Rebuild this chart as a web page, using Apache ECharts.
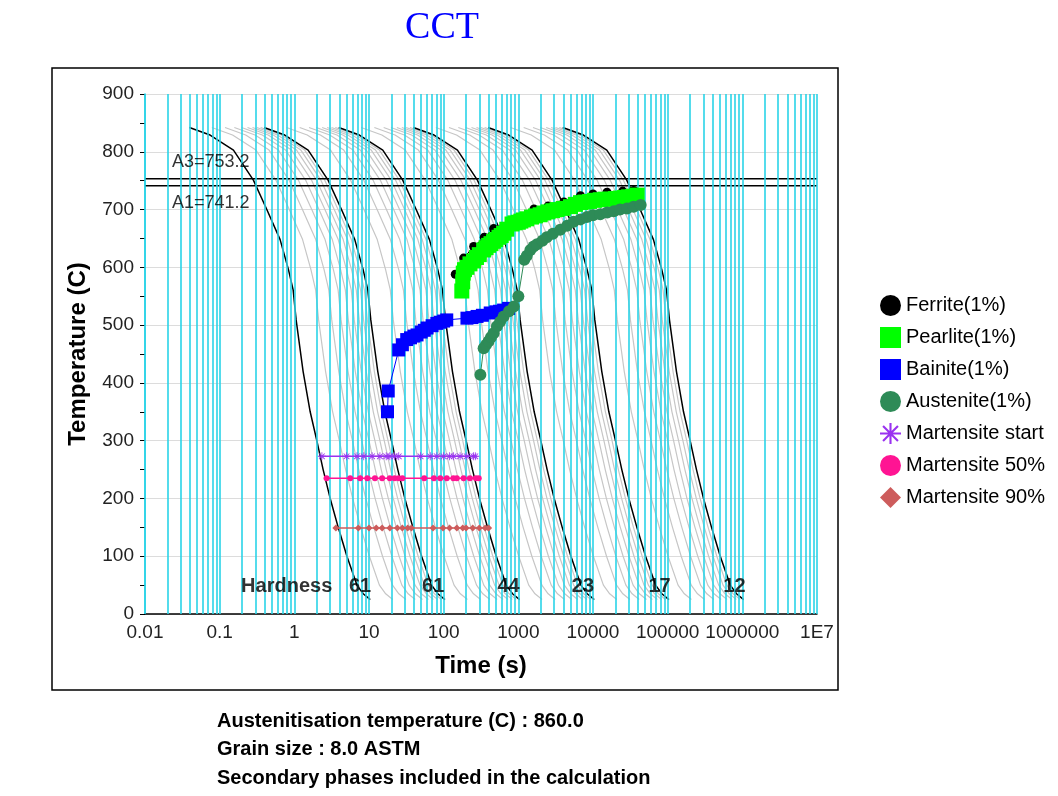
<!DOCTYPE html>
<html>
<head>
<meta charset="utf-8">
<title>CCT</title>
<script src="https://cdn.jsdelivr.net/npm/echarts@6/dist/echarts.min.js"></script>
<style>
html,body{margin:0;padding:0;background:#fff;}
#cct-chart{width:1058px;height:796px;}
</style>
</head>
<body>
<div id="cct-chart"></div>
<script>
// time axis labels and the log grid (1..9 in each decade)
var timeTickLabels = ['0.01','0.1','1','10','100','1000','10000','100000','1000000','1E7'];
var decadeStarts = [0.01,0.1,1,10,100,1000,10000,100000,1000000];
var decadeSteps = [1,2,3,4,5,6,7,8,9];

// fastest cooling curve (left black one)
var baseTime = [0.0393,0.0744,0.153,0.283,0.428,0.645,0.834,0.964,1.057,1.31,1.63,2.0,2.43,3.02,3.87,5.06,6.89,8.36,10.4];
var baseTemp = [842,829,803,751,700,648,596,561,509,420,350,300,250,200,150,100,50,35,25];
// slower curves are the same curve moved along the time axis
var blackShift = [1,10,100,1000,10000,100000];
var greySteps = [2,3,4,5,6,7,8,9];
var greyDecades = [1,10,100,1000,10000];

// critical temperatures
var a3Temp = 753.2;
var a1Temp = 741.2;

// phase start points
var ferriteTime = [143,185,252,350,466,635,955,1620,2500,4070,6800,10000,15400,25000,35000];
var ferriteTemp = [588,616,636,652,667,670,684,701,706,713,724,727,730,732,733];
var pearliteTime = [175,180,183,190,205,225,251,275,300,343,370,400,430,466,500,550,590,635,700,823,900,1000,1080,1170,1300,1500,1700,1960,2200,2500,2900,3300,4000,5000,5800,6800,7800,9000,10500,12500,14500,17000,20000,23300,26500,30000,34000,39000];
var pearliteTemp = [559,575,590,596,600,606,611,617,622,630,634,638,641,645,648,652,655,659,666,675,677,678,680,682,684,687,689,691,694,696,698,700,702,705,709,712,713,714,716,717,718,718,719,720,721,722,723,725];
var bainiteTime = [17.7,18.1,25,28,32,36,40,44,50,55,60,70,81,90,100,110,205,240,280,330,420,500,560,635,740];
var bainiteTemp = [350,386,457,466,475,478,481,483,488,491,495,499,503,505,507,509,512,513,515,517,521,523,524,526,529];
var austeniteTime = [310,343,370,400,430,466,517,570,635,750,870,1000,1200,1300,1450,1600,1780,2100,2400,2900,3640,4500,5500,6800,8300,10000,12500,15500,19000,23000,28500,35000,43500];
var austeniteTemp = [414,460,466,472,479,486,498,506,515,524,532,550,613,620,630,636,640,646,652,658,665,672,679,683,687,690,692,695,697,700,702,705,708];

// martensite temperatures and where the cooling curves cross them
var msLevel = 273;
var msTime = [2.34,5.0,6.9,8.5,11,14,17,19,22,25,49,66,81,100,120,136,166,204,250,265];
var m50Level = 235;
var m50Time = [2.7,5.6,7.6,9.5,12,15,19,22,25,28,55,74,90,110,135,150,185,225,270,295];
var m90Level = 149;
var m90Time = [3.6,7.2,10,12.5,15,19,24,28,33,37,72,98,120,150,180,200,245,300,360,400];

// hardness of the six black curves
var hardnessText = ['61','61','44','23','17','12'];
var hardnessTime = [7.6,72.5,740,7330,78000,785000];
var hardnessTemp = 47;

var infoLines = [
  'Austenitisation temperature (C) : 860.0',
  'Grain size : 8.0 ASTM',
  'Secondary phases included in the calculation'
];

var asteriskPath = 'path://M9,0h2v20h-2z M0,9h20v2h-20z M2.2,3.6L3.6,2.2L17.8,16.4L16.4,17.8z M16.4,2.2L17.8,3.6L3.6,17.8L2.2,16.4z';
var cyan = '#2ad4e8';

function curveData(shift) {
  var pts = [];
  for (var i = 0; i < baseTime.length; i++) {
    pts.push([baseTime[i] * shift, baseTemp[i]]);
  }
  return pts;
}
function pairData(times, temps) {
  var pts = [];
  for (var i = 0; i < times.length; i++) {
    pts.push([times[i], temps[i]]);
  }
  return pts;
}
function levelData(times, level) {
  var pts = [];
  for (var i = 0; i < times.length; i++) {
    pts.push([times[i], level]);
  }
  return pts;
}
function phaseSeries(name, data, symbol, size, color, width) {
  return {
    name: name,
    type: 'line',
    data: data,
    symbol: symbol,
    symbolSize: size,
    showSymbol: true,
    itemStyle: { color: color },
    lineStyle: { color: color, width: width },
    emphasis: { disabled: true },
    silent: true,
    z: 5
  };
}

var cyanLines = [];
for (var d = 0; d < decadeStarts.length; d++) {
  for (var s = 0; s < decadeSteps.length; s++) {
    cyanLines.push({ xAxis: decadeStarts[d] * decadeSteps[s] });
  }
}
cyanLines.push({ xAxis: 1e7 });

var series = [];
// cyan log grid
series.push({
  type: 'line',
  data: [],
  silent: true,
  z: 1,
  markLine: {
    silent: true,
    symbol: ['none', 'none'],
    label: { show: false },
    lineStyle: { color: cyan, width: 1.6, type: 'solid' },
    data: cyanLines
  }
});
// grey cooling curves
for (var g = 0; g < greyDecades.length; g++) {
  for (var k = 0; k < greySteps.length; k++) {
    series.push({
      type: 'line',
      data: curveData(greyDecades[g] * greySteps[k]),
      showSymbol: false,
      silent: true,
      lineStyle: { color: '#c6c6c6', width: 1.2 },
      z: 2
    });
  }
}
// black cooling curves
for (var b = 0; b < blackShift.length; b++) {
  series.push({
    type: 'line',
    data: curveData(blackShift[b]),
    showSymbol: false,
    silent: true,
    lineStyle: { color: '#000', width: 1.5 },
    z: 3
  });
}
// A3 / A1
series.push({
  type: 'line', showSymbol: false, silent: true, z: 4,
  data: [[0.01, a3Temp], [1e7, a3Temp]],
  lineStyle: { color: '#000', width: 1.5 }
});
series.push({
  type: 'line', showSymbol: false, silent: true, z: 4,
  data: [[0.01, a1Temp], [1e7, a1Temp]],
  lineStyle: { color: '#000', width: 1.5 }
});

series.push(phaseSeries('Ferrite(1%)', pairData(ferriteTime, ferriteTemp), 'circle', 9, '#000000', 1));
series.push(phaseSeries('Pearlite(1%)', pairData(pearliteTime, pearliteTemp), 'rect', 15, '#00ff00', 1));
series.push(phaseSeries('Bainite(1%)', pairData(bainiteTime, bainiteTemp), 'rect', 13, '#0000ff', 1));
series.push(phaseSeries('Austenite(1%)', pairData(austeniteTime, austeniteTemp), 'circle', 12, '#2e8b57', 1));
series.push(phaseSeries('Martensite start', levelData(msTime, msLevel), asteriskPath, 8, '#9a32f0', 1.5));
series.push(phaseSeries('Martensite 50%', levelData(m50Time, m50Level), 'circle', 6, '#ff1493', 1.5));
series.push(phaseSeries('Martensite 90%', levelData(m90Time, m90Level), 'diamond', 7, '#cd5c5c', 1.5));

// hardness labels
var hardnessData = [{ name: 'Hardness', value: [0.79, hardnessTemp] }];
for (var h = 0; h < hardnessText.length; h++) {
  hardnessData.push({ name: hardnessText[h], value: [hardnessTime[h], hardnessTemp] });
}
series.push({
  type: 'scatter',
  symbolSize: 0,
  silent: true,
  z: 6,
  data: hardnessData,
  label: {
    show: true,
    position: 'inside',
    formatter: function (p) { return p.name; },
    color: '#000',
    textBorderWidth: 0,
    fontSize: 20,
    fontWeight: 'bold',
    fontFamily: 'Liberation Sans'
  }
});
// A3 / A1 labels
series.push({
  type: 'scatter',
  symbolSize: 0,
  silent: true,
  z: 6,
  data: [
    { name: 'A3=' + a3Temp.toFixed(1), value: [0.023, 782] },
    { name: 'A1=' + a1Temp.toFixed(1), value: [0.023, 711] }
  ],
  label: {
    show: true,
    position: 'right',
    distance: 0,
    formatter: function (p) { return p.name; },
    color: '#000',
    textBorderWidth: 0,
    fontSize: 18,
    fontFamily: 'Liberation Sans'
  }
});

var graphics = [
  {
    type: 'rect',
    shape: { x: 52, y: 68, width: 786, height: 622 },
    style: { fill: 'none', stroke: '#000', lineWidth: 1.5 },
    silent: true
  },
  {
    type: 'text', x: 442, y: 28, silent: true,
    style: { text: 'CCT', font: '38px "Liberation Serif"', fill: '#0000ff', align: 'center', verticalAlign: 'middle' }
  }
];
for (var t = 0; t < infoLines.length; t++) {
  graphics.push({
    type: 'text', x: 217, y: 721 + t * 28.5, silent: true,
    style: { text: infoLines[t], font: 'bold 20px "Liberation Sans"', fill: '#000', align: 'left', verticalAlign: 'middle' }
  });
}

var option = {
  animation: false,
  backgroundColor: '#fff',
  textStyle: { fontFamily: 'Liberation Sans' },
  grid: { left: 145, right: 241, top: 94, bottom: 182, outerBoundsMode: 'none' },
  legend: {
    orient: 'vertical',
    left: 875,
    top: 290,
    itemWidth: 21,
    itemHeight: 21,
    itemGap: 11,
    selectedMode: false,
    textStyle: { fontSize: 20, color: '#000', fontFamily: 'Liberation Sans' },
    data: [
      { name: 'Ferrite(1%)', icon: 'circle' },
      { name: 'Pearlite(1%)', icon: 'rect' },
      { name: 'Bainite(1%)', icon: 'rect' },
      { name: 'Austenite(1%)', icon: 'circle' },
      { name: 'Martensite start', icon: asteriskPath },
      { name: 'Martensite 50%', icon: 'circle' },
      { name: 'Martensite 90%', icon: 'diamond' }
    ]
  },
  xAxis: {
    type: 'log',
    logBase: 10,
    min: 0.01,
    max: 1e7,
    splitNumber: 9,
    name: 'Time (s)',
    nameLocation: 'middle',
    nameGap: 40,
    nameTextStyle: { fontSize: 24, fontWeight: 'bold', color: '#000' },
    axisLine: { lineStyle: { color: '#000', width: 1.5 } },
    axisTick: { show: false },
    splitLine: { show: false },
    axisLabel: {
      fontSize: 19,
      color: '#222',
      margin: 9,
      formatter: function (v) {
        var k = Math.round(Math.log(v) / Math.LN10) + 2;
        return timeTickLabels[k] || '';
      }
    }
  },
  yAxis: {
    type: 'value',
    min: 0,
    max: 900,
    interval: 100,
    name: 'Temperature (C)',
    nameLocation: 'middle',
    nameGap: 55,
    nameTextStyle: { fontSize: 24, fontWeight: 'bold', color: '#000' },
    axisLine: { show: true, lineStyle: { color: cyan, width: 1.6 } },
    axisTick: { show: true, length: 5, lineStyle: { color: '#000' } },
    minorTick: { show: true, splitNumber: 2, length: 5, lineStyle: { color: '#000' } },
    splitLine: { lineStyle: { color: '#dcdcdc', width: 1 } },
    axisLabel: { fontSize: 19, color: '#222', margin: 11 }
  },
  graphic: graphics,
  series: series
};

var myChart = echarts.init(document.getElementById('cct-chart'));
myChart.setOption(option);
</script>
</body>
</html>
